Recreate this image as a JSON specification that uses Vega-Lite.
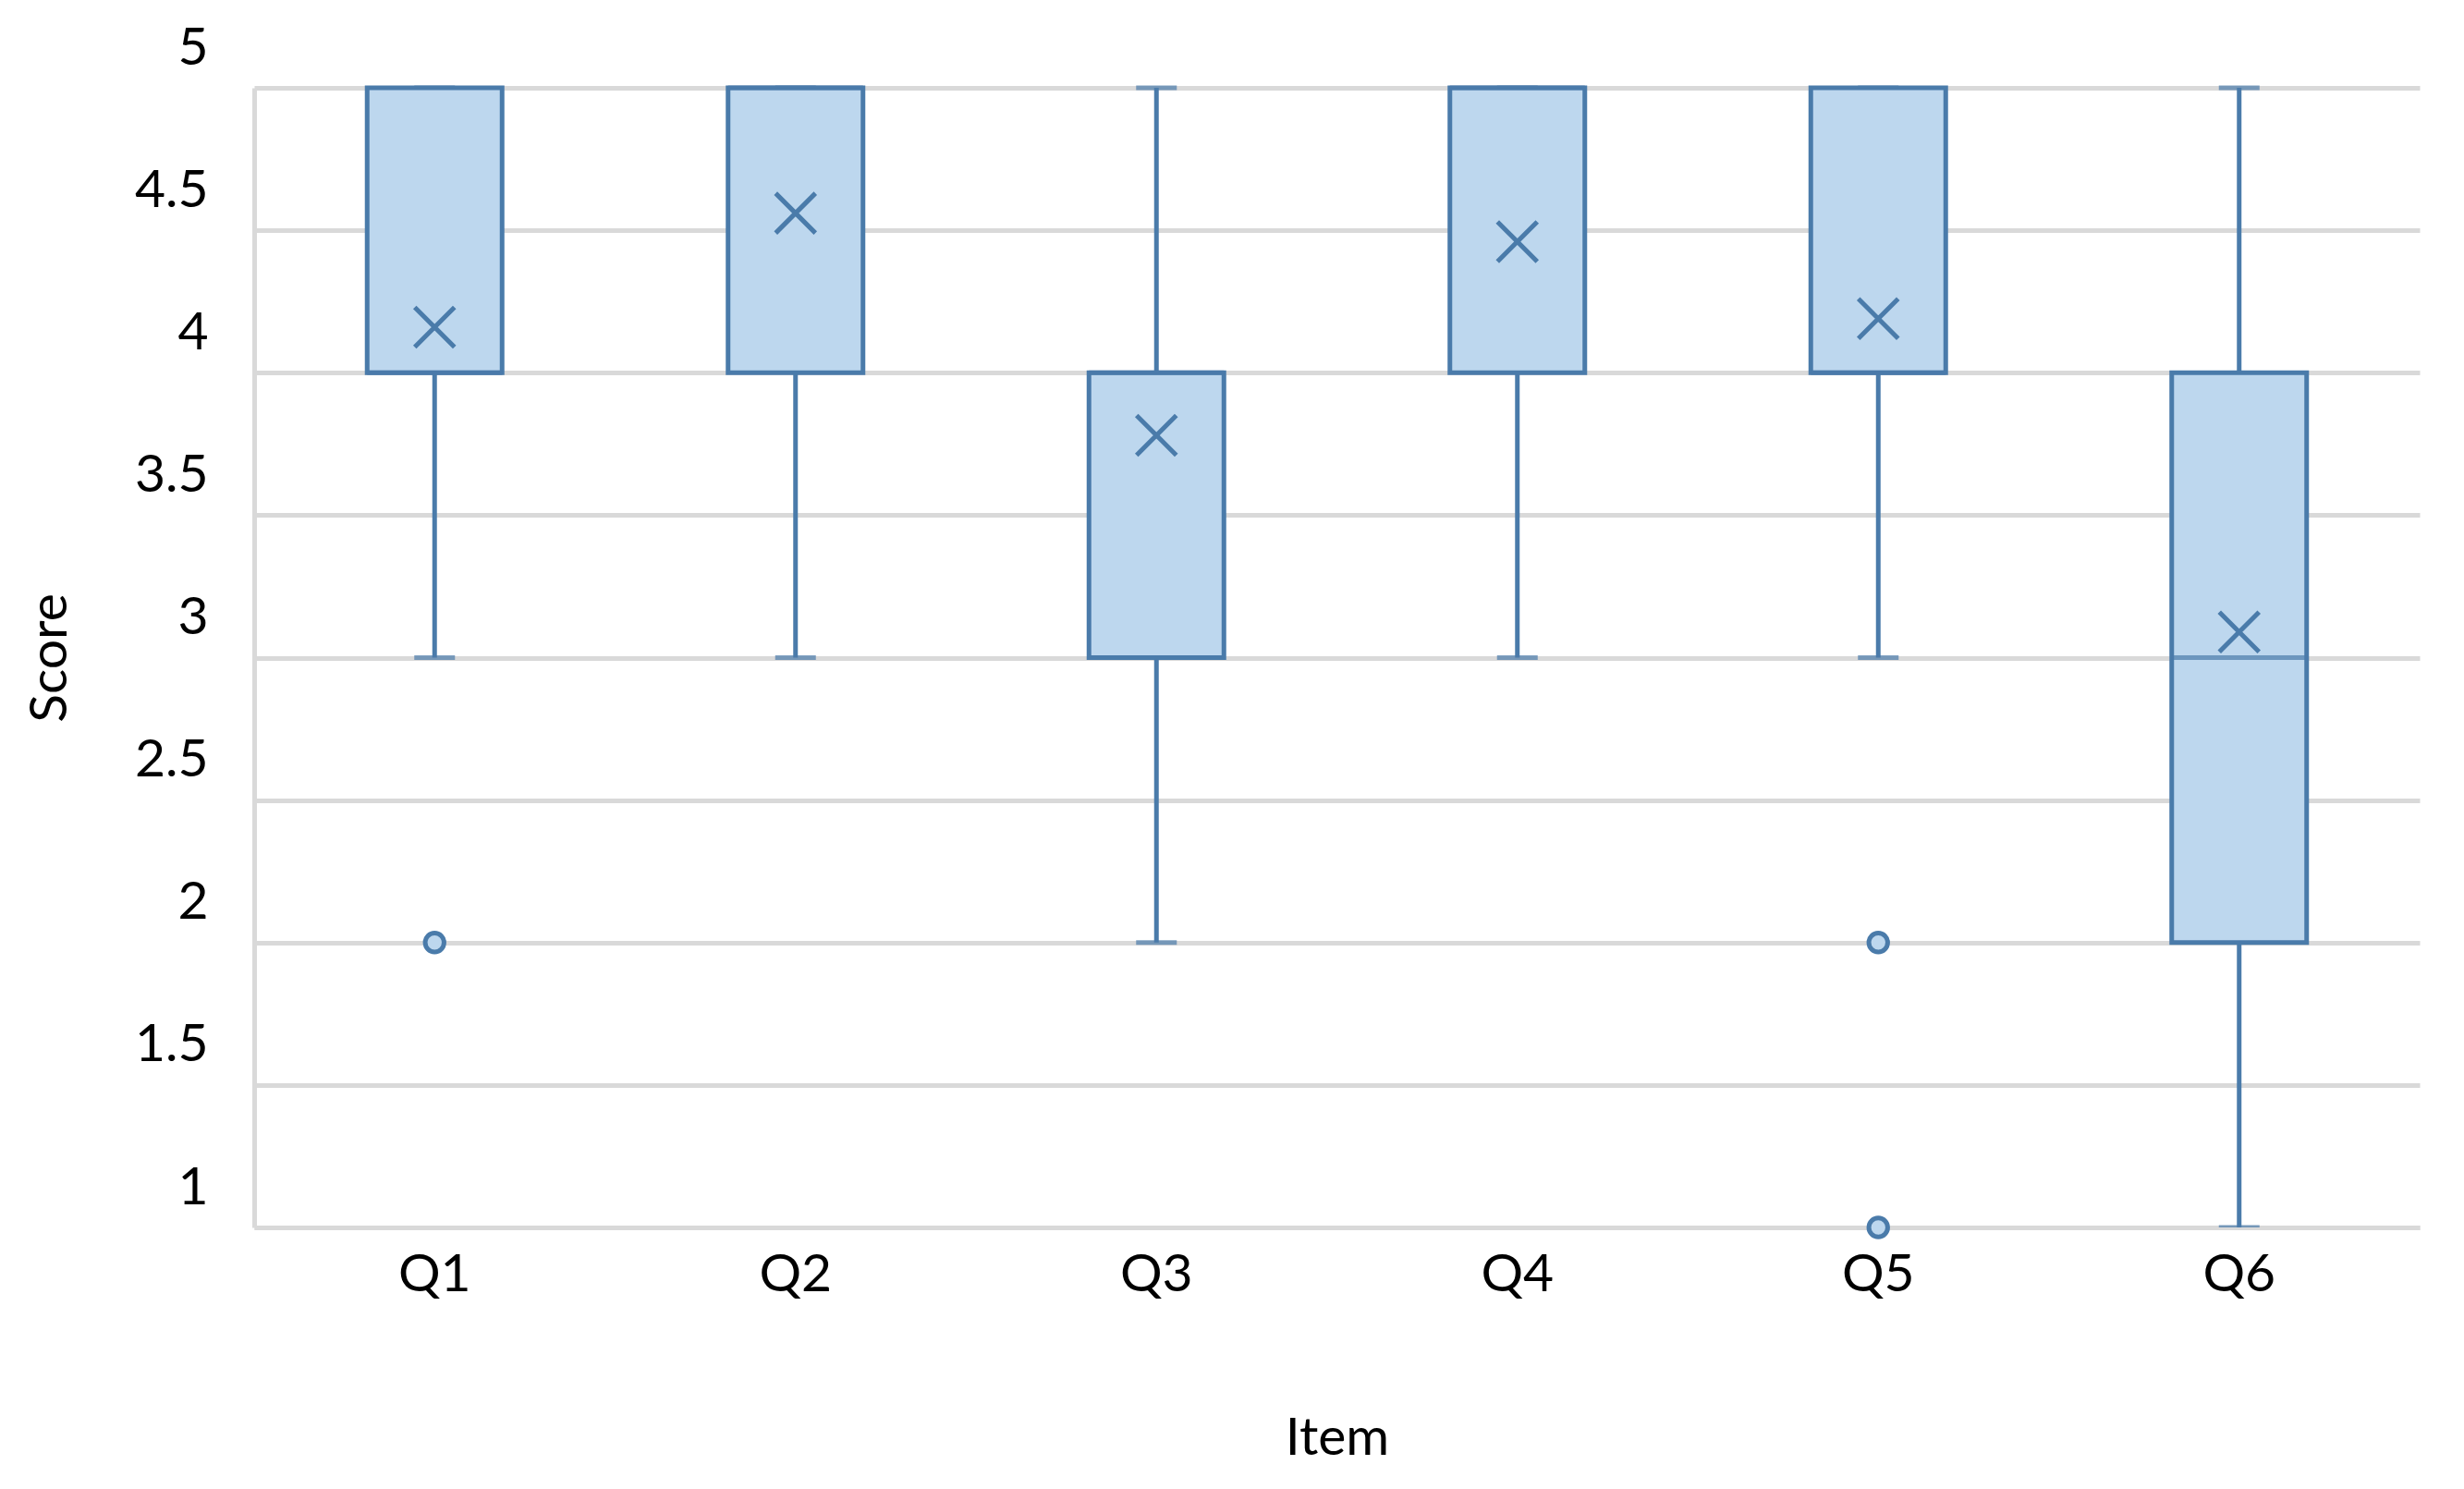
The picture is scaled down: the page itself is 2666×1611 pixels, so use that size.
{
  "$schema": "https://vega.github.io/schema/vega-lite/v6.json",
  "autosize": {"type": "none"},
  "width": 2343,
  "height": 1233,
  "padding": {"left": 275, "top": 95, "right": 48, "bottom": 283},
  "background": "white",
  "config": {"view": {"stroke": null}, "font": "Lato"},
  "datasets": {
    "stats": [
      {"item": "Q1", "min": 3, "q1": 4, "median": 4, "q3": 5, "max": 5, "mean": 4.16},
      {"item": "Q2", "min": 3, "q1": 4, "median": 5, "q3": 5, "max": 5, "mean": 4.56},
      {"item": "Q3", "min": 2, "q1": 3, "median": 4, "q3": 4, "max": 5, "mean": 3.78},
      {"item": "Q4", "min": 3, "q1": 4, "median": 5, "q3": 5, "max": 5, "mean": 4.46},
      {"item": "Q5", "min": 3, "q1": 4, "median": 4, "q3": 5, "max": 5, "mean": 4.19},
      {"item": "Q6", "min": 1, "q1": 2, "median": 3, "q3": 4, "max": 5, "mean": 3.09}
    ],
    "outliers": [
      {"item": "Q1", "value": 2},
      {"item": "Q5", "value": 2},
      {"item": "Q5", "value": 1}
    ]
  },
  "encoding": {
    "x": {
      "field": "item",
      "type": "nominal",
      "sort": ["Q1", "Q2", "Q3", "Q4", "Q5", "Q6"],
      "scale": {"domain": ["Q1", "Q2", "Q3", "Q4", "Q5", "Q6"], "paddingInner": 0, "paddingOuter": 0},
      "axis": {
        "labelAngle": 0,
        "labelFontSize": 57,
        "labelColor": "black",
        "labelPadding": 23,
        "ticks": false,
        "domain": true,
        "domainColor": "#D9D9D9",
        "domainWidth": 5,
        "title": "Item",
        "titleFontSize": 57,
        "titleFontWeight": "normal",
        "titleColor": "black",
        "titleY": 245,
        "titleBaseline": "alphabetic"
      }
    }
  },
  "layer": [
    {
      "data": {"name": "stats"},
      "mark": {"type": "rule", "color": "#4A7BAA", "strokeWidth": 5},
      "encoding": {
        "y": {
          "field": "min",
          "type": "quantitative",
          "title": "Score",
          "scale": {"domain": [1, 5], "nice": false, "zero": false},
          "axis": {
            "values": [1, 1.5, 2, 2.5, 3, 3.5, 4, 4.5, 5],
            "format": "~g",
            "domain": true,
            "domainColor": "#D9D9D9",
            "domainWidth": 5,
            "ticks": false,
            "grid": true,
            "gridColor": "#D9D9D9",
            "gridWidth": 5,
            "labelFontSize": 57,
            "labelColor": "black",
            "labelPadding": 50,
            "labelOffset": -43,
            "titleFontSize": 57,
            "titleFontWeight": "normal",
            "titleColor": "black",
            "titleX": -221,
            "titleBaseline": "middle"
          }
        },
        "y2": {"field": "max"}
      }
    },
    {
      "data": {"name": "stats"},
      "mark": {"type": "tick", "color": "#4A7BAA", "size": 44, "thickness": 5, "clip": true},
      "encoding": {
        "y": {"field": "min", "type": "quantitative", "title": "Score"}
      }
    },
    {
      "data": {"name": "stats"},
      "mark": {"type": "tick", "color": "#4A7BAA", "size": 44, "thickness": 5},
      "encoding": {
        "y": {"field": "max", "type": "quantitative", "title": "Score"}
      }
    },
    {
      "data": {"name": "stats"},
      "mark": {"type": "bar", "width": 146, "fill": "#BDD7EE", "stroke": "#4A7BAA", "strokeWidth": 5},
      "encoding": {
        "y": {"field": "q1", "type": "quantitative", "title": "Score"},
        "y2": {"field": "q3"}
      }
    },
    {
      "data": {"name": "stats"},
      "mark": {"type": "tick", "color": "#4A7BAA", "size": 146, "thickness": 5},
      "encoding": {
        "y": {"field": "median", "type": "quantitative", "title": "Score"}
      }
    },
    {
      "data": {"name": "stats"},
      "mark": {"type": "point", "shape": "M-1,-1L1,1M-1,1L1,-1", "filled": false, "stroke": "#4A7BAA", "strokeWidth": 5, "size": 1850, "opacity": 1},
      "encoding": {
        "y": {"field": "mean", "type": "quantitative", "title": "Score"}
      }
    },
    {
      "data": {"name": "outliers"},
      "mark": {"type": "point", "shape": "circle", "filled": true, "fill": "#BDD7EE", "stroke": "#4A7BAA", "strokeWidth": 5, "size": 415, "opacity": 1},
      "encoding": {
        "y": {"field": "value", "type": "quantitative", "title": "Score"}
      }
    }
  ]
}
